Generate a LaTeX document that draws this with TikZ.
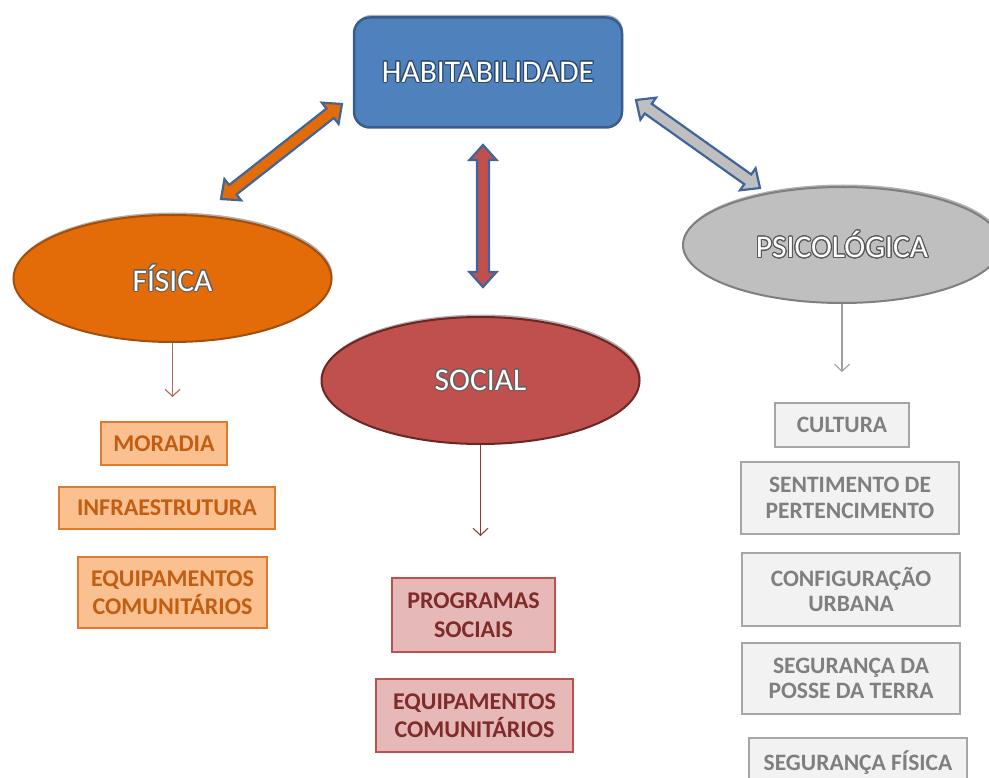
\documentclass[tikz,border=0pt]{standalone}
\usepackage{fontspec}
\setmainfont{Carlito}
\usepackage[copies]{contour}
\contourlength{1pt}
\contournumber{24}
\usetikzlibrary{shapes.geometric,arrows.meta,calc,shadows}

\definecolor{habfill}{HTML}{4F81BD}
\definecolor{habdraw}{HTML}{385D8A}
\definecolor{arrblue}{HTML}{3F659A}
\definecolor{fisfill}{HTML}{E36C09}
\definecolor{fisdraw}{HTML}{A34F0B}
\definecolor{socfill}{HTML}{C0504D}
\definecolor{socdraw}{HTML}{6E2624}
\definecolor{psifill}{HTML}{BFBFBF}
\definecolor{psidraw}{HTML}{7F7F7F}
\definecolor{fboxfill}{HTML}{FAC090}
\definecolor{fboxdraw}{HTML}{E07A2E}
\definecolor{fboxtext}{HTML}{C25E12}
\definecolor{sboxfill}{HTML}{E6B9B8}
\definecolor{sboxdraw}{HTML}{C0504D}
\definecolor{sboxtext}{HTML}{7E2B29}
\definecolor{pboxfill}{HTML}{F2F2F2}
\definecolor{pboxdraw}{HTML}{A6A6A6}
\definecolor{pboxtext}{HTML}{7F7F7F}
\definecolor{fisline}{HTML}{B06A55}
\definecolor{socline}{HTML}{8B3A3A}
\definecolor{psiline}{HTML}{A0A0A0}

\newcommand\dblarr[3]{%
  \coordinate (pA) at ($(#1)!15pt!(#2)$);
  \coordinate (pB) at ($(#2)!15pt!(#1)$);
  \path[draw=arrblue, line width=2.2pt, fill=#3, line join=miter]
    (#1) -- ($(pA)!13.5pt!90:(#2)$) -- ($(pA)!6pt!90:(#2)$)
    -- ($(pB)!6pt!-90:(#1)$) -- ($(pB)!13.5pt!-90:(#1)$) -- (#2)
    -- ($(pB)!13.5pt!90:(#1)$) -- ($(pB)!6pt!90:(#1)$)
    -- ($(pA)!6pt!-90:(#2)$) -- ($(pA)!13.5pt!-90:(#2)$) -- cycle;
}

\tikzset{
  x=1pt, y=-1pt,
  shade/.style={drop shadow={shadow xshift=1pt, shadow yshift=2.5pt, opacity=0.3, fill=black}},
  mainbox/.style={shape=rectangle, rounded corners=16pt, fill=habfill, draw=habdraw,
    line width=2.5pt, minimum width=268pt, minimum height=110pt, inner sep=0pt,
    text=white, font=\fontsize{31.5}{34}\selectfont, shade},
  ell/.style={shape=ellipse, minimum width=318pt, inner sep=0pt, line width=2pt,
    text=white, font=\fontsize{31.5}{34}\selectfont, shade},
  item/.style={shape=rectangle, line width=1.4pt, inner sep=0pt, align=center,
    font=\fontsize{24}{28.5}\bfseries\selectfont},
  fitem/.style={item, fill=fboxfill, draw=fboxdraw, text=fboxtext},
  sitem/.style={item, fill=sboxfill, draw=sboxdraw, text=sboxtext},
  pitem/.style={item, fill=pboxfill, draw=pboxdraw, text=pboxtext,
    font=\fontsize{23.5}{25.5}\bfseries\selectfont},
  thin/.style={line width=1.1pt, -{Straight Barb[length=7pt,width=15pt]}},
}

\begin{document}
\begin{tikzpicture}
\useasboundingbox (0,0) rectangle (989,778);

% main box
\node[mainbox] (hab) at (488,72.5) {\contour{habdraw!80!black}{HABITABILIDADE}};

% ellipses
\node[ell, minimum height=127pt, fill=fisfill, draw=fisdraw] (fis) at (172.5,278.5)
  {\contour{gray!75!black}{FÍSICA}};
\node[ell, minimum height=127pt, fill=socfill, draw=socdraw] (soc) at (480.5,380.5)
  {\contour{gray!75!black}{SOCIAL}};
\node[ell, minimum height=116pt, fill=psifill, draw=psidraw] (psi) at (842,245)
  {\contour{gray!70!black}{PSICOLÓGICA}};

% block double arrows
\coordinate (oA) at (221,199);
\coordinate (oB) at (342,104);
\coordinate (rA) at (483,287);
\coordinate (rB) at (483,145);
\coordinate (gA) at (760,188);
\coordinate (gB) at (636,100);
\dblarr{oA}{oB}{fisfill}
\dblarr{rA}{rB}{socfill}
\dblarr{gA}{gB}{psifill}

% FÍSICA items
\node[fitem, minimum width=126pt, minimum height=43pt] (mor) at (164,443.5) {MORADIA};
\node[fitem, minimum width=216pt, minimum height=42pt] (inf) at (167,508) {INFRAESTRUTURA};
\node[fitem, minimum width=189pt, minimum height=71pt] (feq) at (172.5,592.5) {EQUIPAMENTOS\\COMUNITÁRIOS};

% SOCIAL items
\node[sitem, minimum width=163pt, minimum height=74pt] (prog) at (473.5,615) {PROGRAMAS\\SOCIAIS};
\node[sitem, minimum width=197pt, minimum height=73pt] (seq) at (474.5,715.5) {EQUIPAMENTOS\\COMUNITÁRIOS};

% PSICOLÓGICA items
\node[pitem, minimum width=134pt, minimum height=44pt] (cul) at (842,425) {CULTURA};
\node[pitem, minimum width=218pt, minimum height=72pt] (sent) at (850,498) {SENTIMENTO DE\\PERTENCIMENTO};
\node[pitem, minimum width=218pt, minimum height=73pt] (conf) at (851,589.5) {CONFIGURAÇÃO\\URBANA};
\node[pitem, minimum width=218pt, minimum height=71pt] (posse) at (851,678.5) {SEGURANÇA DA\\POSSE DA TERRA};
\node[pitem, minimum width=218pt, minimum height=50pt] (segf) at (858,763) {SEGURANÇA FÍSICA};

% thin arrows
\coordinate (fT) at (172.5,397);
\coordinate (sT) at (480.5,536);
\coordinate (pT) at (842,372);
\draw[thin, fisline] (fis.south) -- (fT);
\draw[thin, socline] (soc.south) -- (sT);
\draw[thin, psiline] (psi.south) -- (pT);
\end{tikzpicture}
\end{document}
